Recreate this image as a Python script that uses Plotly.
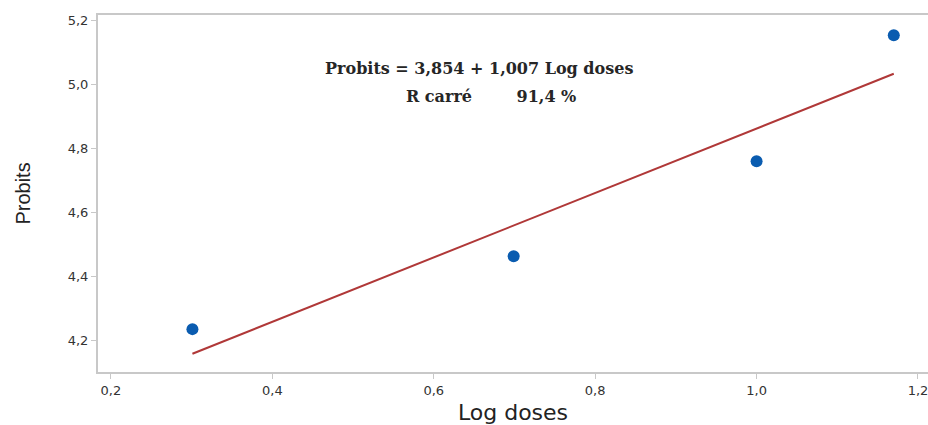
import plotly.graph_objects as go

# Observed data: log10 of doses and corresponding probit values
log_doses = [0.301, 0.699, 1.0, 1.17]
probits = [4.234, 4.462, 4.759, 5.153]

# Fitted regression line: Probits = intercept + slope * Log doses
intercept = 3.854
slope = 1.007
r_squared_pct = 91.4

fit_x = [min(log_doses), max(log_doses)]
fit_y = [intercept + slope * v for v in fit_x]

x_ticks = [0.2, 0.4, 0.6, 0.8, 1.0, 1.2]
y_ticks = [4.2, 4.4, 4.6, 4.8, 5.0, 5.2]

fig = go.Figure()
fig.add_trace(go.Scatter(
    x=fit_x, y=fit_y, mode="lines",
    line=dict(color="#b03838", width=2), showlegend=False,
))
fig.add_trace(go.Scatter(
    x=log_doses, y=probits, mode="markers",
    marker=dict(color="#0a5cb0", size=12), showlegend=False,
))

eq_text = f"Probits = {intercept:.3f} + {slope:.3f} Log doses".replace(".", ",")
r2_text = f"R carré        {r_squared_pct:.1f} %".replace(".", ",")
note_font = dict(family="DejaVu Serif, serif", size=16, color="#262626", weight="bold")

fig.add_annotation(
    x=0.656, y=5.05, xref="x", yref="y", text=eq_text,
    showarrow=False, font=note_font,
)
fig.add_annotation(
    x=0.671, y=4.9625, xref="x", yref="y", text=r2_text,
    showarrow=False, font=note_font,
)

axis_common = dict(
    showline=True, linecolor="#c8c8c8", linewidth=2,
    ticks="outside", ticklen=5, tickcolor="#c8c8c8", tickwidth=1,
    showgrid=False, zeroline=False,
    tickfont=dict(family="DejaVu Sans, sans-serif", size=13, color="#333"),
    tickformat=".1f", ticklabeloverflow="allow",
)

fig.update_layout(
    width=928, height=425,
    margin=dict(l=98, r=0, t=15, b=53),
    paper_bgcolor="white", plot_bgcolor="white",
    separators=", ",
    xaxis=dict(
        **axis_common, mirror=True, range=[0.184, 1.2124], tickvals=x_ticks,
        title=dict(text="Log doses", standoff=10,
                   font=dict(family="DejaVu Sans, sans-serif", size=22, color="#222")),
    ),
    yaxis=dict(
        **axis_common, mirror=False, range=[4.1, 5.216], tickvals=y_ticks,
        title=dict(text="Probits", standoff=32,
                   font=dict(family="Liberation Sans Narrow, Liberation Sans, sans-serif", size=20, color="#222")),
    ),
)

fig.write_html("out.html")
